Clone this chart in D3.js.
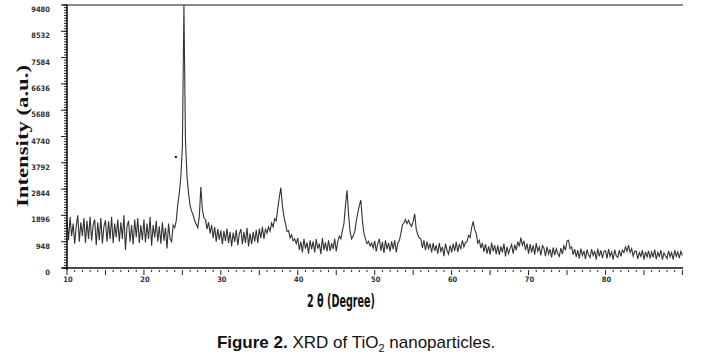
<!DOCTYPE html>
<html><head><meta charset="utf-8">
<script src="https://cdn.jsdelivr.net/npm/d3@7"></script>
<style>html,body{margin:0;padding:0;background:#fff;overflow:hidden}</style>
</head><body>
<svg id="c" width="707" height="358"></svg>
<script>
// 2θ sampling
const startAngle = 10;
const stepAngle = 0.2;
// Intensity (a.u.), one row = 2 degrees (10 samples) starting at 10°
const intensity = [
 1750,1000,1850,1150,1600,880,1500,1900,950,1650,
 1150,1800,900,1700,1050,1850,980,1550,1750,820,
 1650,1000,1800,880,1500,1720,950,1680,1050,1850,
 900,1600,1100,1750,950,1650,1050,1900,650,1500,
 1700,950,1550,850,1750,1100,1800,900,1550,1000,
 1750,920,1600,1050,1850,800,1550,1100,1700,950,
 1500,880,1650,980,1450,700,1600,1050,950,1550,
 1450,1700,2300,2700,3300,4400,9480,4600,3300,2700,
 2250,2050,1900,1700,1580,1450,1850,2920,2100,1800,
 1750,1400,1650,1250,1550,1080,1480,950,1400,1020,
 1350,860,1330,980,1420,900,1300,780,1280,940,
 1380,820,1220,1400,860,1300,900,1450,780,1250,
 860,1300,950,1380,900,1420,1080,1480,1050,1420,
 1250,1480,1330,1620,1480,1780,1700,2150,2550,2900,
 2250,1850,1600,1320,1350,1080,1200,980,1050,880,
 1080,650,950,560,1050,700,920,520,1000,680,
 960,560,1040,700,880,500,1080,640,920,600,
 1000,620,900,680,1050,600,950,1150,1050,1350,
 1600,2250,2800,1950,1300,1050,1150,1300,1680,2000,
 2250,2450,1700,1250,1050,880,960,790,900,720,
 980,600,880,1050,620,940,540,1000,680,900,
 600,960,680,1000,560,900,980,1250,1550,1620,
 1750,1600,1720,1580,1500,1680,1950,1400,1200,1080,
 1050,720,1000,640,950,700,880,560,900,620,
 820,520,900,600,760,430,880,640,500,820,
 560,880,620,940,580,850,700,1000,760,920,
 950,1180,1100,1450,1680,1380,1250,900,1000,720,
 900,580,860,520,780,480,920,600,820,500,
 820,470,780,560,880,420,760,520,700,850,
 520,840,640,950,780,1100,820,980,640,880,
 520,860,560,820,480,900,600,760,450,800,
 720,430,760,500,680,380,740,460,690,520,
 420,720,500,800,640,980,1000,700,760,480,
 680,400,640,350,700,450,620,330,660,480,
 380,680,450,620,300,700,420,640,360,600,
 620,350,680,420,580,300,660,440,380,640,
 420,640,560,760,600,820,560,700,430,600,
 600,330,560,420,640,300,580,400,620,350,
 580,380,660,320,560,420,640,300,540,440,
 340,620,400,560,300,640,420,580,360,600,
 450
];
// isolated marker dot
const dotAngle = [24.15];
const dotIntensity = [4000];
// axes
const yTickValues = [0,948,1896,2844,3792,4740,5688,6636,7584,8532,9480];
const xTickLabels = [10,20,30,40,50,60,70,80];
const xDomain = [10, 90];
const yDomain = [0, 9480];

const svg = d3.select("#c");
const L = 67, R = 682.4, T = 5, B = 268;
const x = d3.scaleLinear().domain(xDomain).range([L, R]);
const y = d3.scaleLinear().domain(yDomain).range([B, T]);
const narrow = "'Liberation Sans Narrow','DejaVu Sans Condensed','Arial Narrow',sans-serif";

const data = intensity.map((v, i) => [startAngle + i * stepAngle, v]);

// top border
svg.append("line").attr("x1", 62).attr("x2", 683).attr("y1", T).attr("y2", T)
  .attr("stroke", "#8a8a8a").attr("stroke-width", 2);

// trace
svg.append("path").datum(data)
  .attr("d", d3.line().x(d => x(d[0])).y(d => y(d[1])))
  .attr("fill", "none").attr("stroke", "#333").attr("stroke-width", 1.1)
  .attr("stroke-linejoin", "miter");

// dot
svg.selectAll("rect.dot").data(dotAngle).enter().append("rect")
  .attr("x", (d) => x(d) - 1).attr("y", (d, i) => y(dotIntensity[i]) - 1)
  .attr("width", 2).attr("height", 2).attr("fill", "#111");

// Y axis
const yMinor = d3.range(0, 9480.1, 94.8);
const ya = svg.append("g").attr("transform", `translate(${L},0)`);
ya.selectAll("line.mn").data(yMinor).enter().append("line")
  .attr("x1", -3).attr("x2", 0).attr("y1", d => y(d)).attr("y2", d => y(d))
  .attr("stroke", "#222").attr("stroke-width", 1);
ya.selectAll("line.mj").data(yTickValues).enter().append("line")
  .attr("x1", -6).attr("x2", 0).attr("y1", d => y(d)).attr("y2", d => y(d))
  .attr("stroke", "#222").attr("stroke-width", 1);
ya.append("line").attr("x1", 0).attr("x2", 0).attr("y1", T).attr("y2", B + 2)
  .attr("stroke", "#111").attr("stroke-width", 1.6);
ya.selectAll("text").data(yTickValues).enter().append("text")
  .attr("x", -17).attr("y", d => y(d) + 7)
  .attr("text-anchor", "end").attr("font-family", narrow).attr("font-size", 7.5)
  .attr("font-weight", "bold").attr("fill", "#333").text(d => d);

// X axis
const xa = svg.append("g").attr("transform", `translate(0,${B})`);
xa.append("line").attr("x1", 62).attr("x2", 683).attr("y1", 0).attr("y2", 0)
  .attr("stroke", "#111").attr("stroke-width", 1.6);
const xMinor = d3.range(10, 90.01, 1);
xa.selectAll("line.mn").data(xMinor).enter().append("line")
  .attr("x1", d => x(d)).attr("x2", d => x(d)).attr("y1", 2)
  .attr("y2", d => (d % 5 === 0 ? 7 : 4))
  .attr("stroke", "#222").attr("stroke-width", 1);
xa.selectAll("text").data(xTickLabels).enter().append("text")
  .attr("x", d => x(d) + 1).attr("y", 14)
  .attr("text-anchor", "middle").attr("font-family", narrow).attr("font-size", 7.5)
  .attr("font-weight", "bold").attr("fill", "#333").text(d => d);

// Axis titles
svg.append("text").attr("x", 341).attr("y", 307).attr("text-anchor", "middle")
  .attr("font-family", narrow).attr("font-size", 17).attr("font-weight", "bold").attr("fill", "#111")
  .attr("textLength", 68).attr("lengthAdjust", "spacingAndGlyphs")
  .text("2 θ (Degree)");

svg.append("text").attr("transform", "translate(28,136) rotate(-90)")
  .attr("text-anchor", "middle").attr("font-family", "'Liberation Serif','DejaVu Serif',serif")
  .attr("font-size", 17).attr("font-weight", "bold").attr("fill", "#111")
  .attr("textLength", 142).attr("lengthAdjust", "spacingAndGlyphs")
  .text("Intensity (a.u.)");

// Caption
const cap = svg.append("text").attr("x", 356).attr("y", 348).attr("text-anchor", "middle")
  .attr("font-family", "'Liberation Sans',Arial,sans-serif").attr("font-size", 17).attr("fill", "#111");
cap.append("tspan").attr("font-weight", "bold").text("Figure 2.");
cap.append("tspan").text(" XRD of TiO");
cap.append("tspan").attr("font-size", 11).attr("dy", 4).text("2");
cap.append("tspan").attr("dy", -4).text(" nanoparticles.");
</script>
</body></html>
